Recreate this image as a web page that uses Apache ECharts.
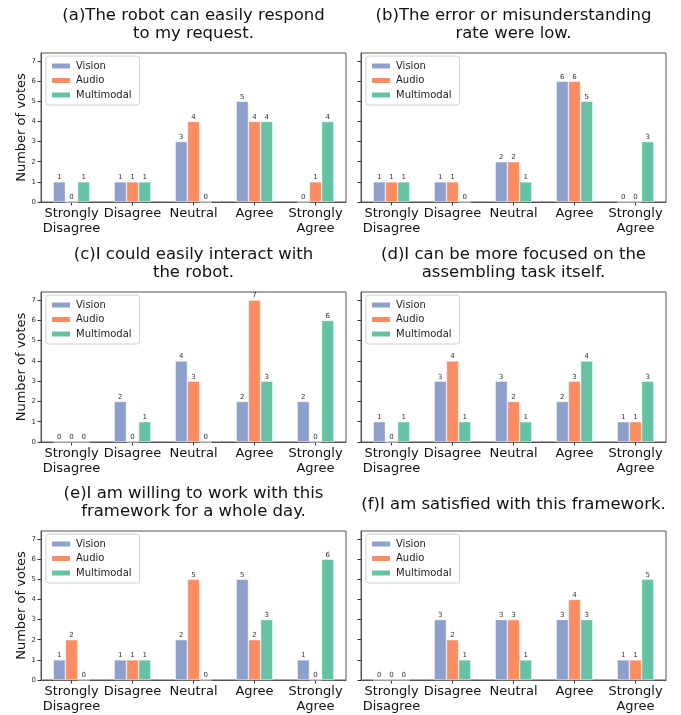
<!DOCTYPE html>
<html>
<head>
<meta charset="utf-8">
<script src="https://cdn.jsdelivr.net/npm/echarts@6/dist/echarts.min.js"></script>
<style>html,body{margin:0;padding:0;background:#fff}#c{width:681px;height:715px}</style>
</head>
<body>
<div id="c"></div>
<script>
const categories = ['Strongly\nDisagree', 'Disagree', 'Neutral', 'Agree', 'Strongly\nAgree'];
const seriesNames = ['Vision', 'Audio', 'Multimodal'];
const seriesColors = ['#8da0cb', '#fc8d62', '#66c2a5'];
const yTicks = [0, 1, 2, 3, 4, 5, 6, 7];
const panelTitles = [
  '(a)The robot can easily respond\nto my request.',
  '(b)The error or misunderstanding\nrate were low.',
  '(c)I could easily interact with\nthe robot.',
  '(d)I can be more focused on the\nassembling task itself.',
  '(e)I am willing to work with this\nframework for a whole day.',
  '(f)I am satisfied with this framework.'
];
// values per panel: [Vision, Audio, Multimodal]
const visionA = [1, 1, 3, 5, 0], audioA = [0, 1, 4, 4, 1], multiA = [1, 1, 0, 4, 4];
const visionB = [1, 1, 2, 6, 0], audioB = [1, 1, 2, 6, 0], multiB = [1, 0, 1, 5, 3];
const visionC = [0, 2, 4, 2, 2], audioC = [0, 0, 3, 7, 0], multiC = [0, 1, 0, 3, 6];
const visionD = [1, 3, 3, 2, 1], audioD = [0, 4, 2, 3, 1], multiD = [1, 1, 1, 4, 3];
const visionE = [1, 1, 2, 5, 1], audioE = [2, 1, 5, 2, 0], multiE = [0, 1, 0, 3, 6];
const visionF = [0, 3, 3, 3, 1], audioF = [0, 2, 3, 4, 1], multiF = [0, 1, 1, 3, 5];
const panelData = [
  [visionA, audioA, multiA],
  [visionB, audioB, multiB],
  [visionC, audioC, multiC],
  [visionD, audioD, multiD],
  [visionE, audioE, multiE],
  [visionF, audioF, multiF]
];

const FONT = 'DejaVu Sans';
const colLeft = [41, 361];
const colWidth = 305;
const rowTop = [53, 292, 531];
const rowHeight = [149, 150, 149];
const titleTop = [6.5, 246, 484.5, 496];

const grid = [], xAxis = [], yAxis = [], series = [], title = [], legend = [];
for (let p = 0; p < 6; p++) {
  const r = Math.floor(p / 2), c = p % 2;
  grid.push({
    left: colLeft[c], top: rowTop[r], width: colWidth, height: rowHeight[r],
    show: true, borderColor: '#555', borderWidth: 1, backgroundColor: 'transparent'
  });
  xAxis.push({
    type: 'category', gridIndex: p, data: categories,
    axisLine: { show: true, lineStyle: { color: '#555', width: 1 } },
    axisTick: { show: true, alignWithLabel: true, length: 3.5, lineStyle: { color: '#333' } },
    axisLabel: { fontFamily: FONT, fontSize: 13, lineHeight: 15, color: '#111', margin: 4, interval: 0 },
    splitLine: { show: false }
  });
  yAxis.push({
    type: 'value', gridIndex: p, min: 0, max: 7.4,
    name: c === 0 ? 'Number of votes' : '',
    nameLocation: 'middle', nameGap: 12.5,
    nameTextStyle: { fontFamily: FONT, fontSize: 13, color: '#111' },
    axisLine: { show: true, lineStyle: { color: '#555', width: 1 } },
    axisTick: { show: true, length: 3.5, customValues: yTicks, lineStyle: { color: '#333' } },
    axisLabel: { show: c === 0, customValues: yTicks, fontFamily: FONT, fontSize: 7, color: '#333', margin: 5 },
    splitLine: { show: false }
  });
  title.push({
    text: panelTitles[p],
    left: colLeft[c] + colWidth / 2, top: (p === 5 ? titleTop[3] : titleTop[r]),
    textAlign: 'center', padding: 0,
    textStyle: { fontFamily: FONT, fontSize: 16.5, fontWeight: 'normal', lineHeight: 18, color: '#111' }
  });
  legend.push({
    data: seriesNames,
    orient: 'vertical',
    left: colLeft[c] + 5, top: rowTop[r] + 3,
    itemWidth: 20, itemHeight: 7, itemGap: 2.5, itemTextGap: 8,
    icon: 'rect',
    padding: [4, 8, 4, 4],
    backgroundColor: 'rgba(255,255,255,0.8)',
    borderColor: '#d0d0d0', borderWidth: 1, borderRadius: 3,
    selectedMode: false,
    textStyle: { fontFamily: FONT, fontSize: 10, lineHeight: 12, color: '#222' }
  });
  for (let s = 0; s < 3; s++) {
    series.push({
      type: 'bar', name: seriesNames[s], xAxisIndex: p, yAxisIndex: p,
      data: panelData[p][s],
      barWidth: '20%', barGap: '0%',
      itemStyle: { color: seriesColors[s], borderColor: '#fff', borderWidth: 0.5 },
      label: { show: true, position: 'top', distance: 1, fontFamily: FONT, fontSize: 7, color: '#333' },
      emphasis: { disabled: true },
      animation: false
    });
  }
}

const chart = echarts.init(document.getElementById('c'), null, { renderer: 'canvas' });
chart.setOption({ animation: false, title, grid, xAxis, yAxis, legend, series });
</script>
</body>
</html>
